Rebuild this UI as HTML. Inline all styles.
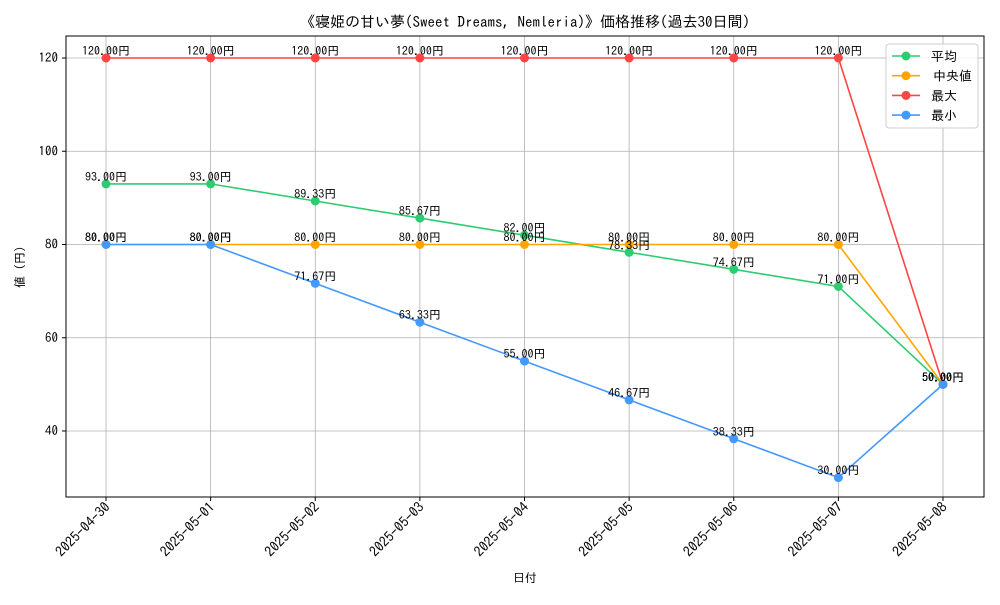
<!DOCTYPE html>
<html><head><meta charset="utf-8">
<style>
body{margin:0;background:#fff}
svg text{font-family:"IPAGothic","Liberation Sans","Noto Sans CJK JP",sans-serif;fill:#000}
</style></head>
<body>
<svg id="c" width="1000" height="600" viewBox="0 0 1000 600" xmlns="http://www.w3.org/2000/svg">
<rect x="0" y="0" width="1000" height="600" fill="#fff"/>
<text x="525" y="27" font-size="15" text-anchor="middle">《寝姫の甘い夢(Sweet Dreams, Nemleria)》価格推移(過去30日間)</text>
<g id="grid"></g>
<rect x="66" y="36" width="918" height="461" fill="none" stroke="#000" stroke-width="1"/>
<g id="axes"></g>
<g id="series"></g>
<text x="525" y="582" font-size="12" text-anchor="middle">日付</text>
<text x="24" y="267" font-size="12" text-anchor="middle" transform="rotate(-90 24 267)">値 (円)</text>
<g>
<rect x="886" y="44" width="92" height="84" rx="3" fill="#fff" fill-opacity="0.8" stroke="#ccc"/>
<g id="legend"></g>
</g>
</svg>
<script>
const categories=["2025-04-30","2025-05-01","2025-05-02","2025-05-03","2025-05-04","2025-05-05","2025-05-06","2025-05-07","2025-05-08"];
const avgValues=[93,93,89.33,85.67,82,78.33,74.67,71,50];
const medianValues=[80,80,80,80,80,80,80,80,50];
const maxValues=[120,120,120,120,120,120,120,120,50];
const minValues=[80,80,71.67,63.33,55,46.67,38.33,30,50];
const yTicks=[40,60,80,100,120];
const seriesNames=["平均","中央値","最大","最小"];

const NS="http://www.w3.org/2000/svg";
const X=i=>106+i*104.625;
const Y=v=>58+(120-v)*4.6625;
function mk(tag,attrs,parent){const e=document.createElementNS(NS,tag);for(const k in attrs)e.setAttribute(k,attrs[k]);parent.appendChild(e);return e;}
const grid=document.getElementById('grid'),axes=document.getElementById('axes'),ser=document.getElementById('series'),leg=document.getElementById('legend');
categories.forEach((c,i)=>{
  const l=mk('line',{x1:X(i),x2:X(i),y1:36,y2:497,stroke:'#b0b0b0','stroke-width':0.8},grid);
  
  
  mk('line',{x1:X(i),x2:X(i),y1:497,y2:501,stroke:'#000'},axes);
  const t=mk('text',{x:X(i)+5,y:508,'font-size':14,'text-anchor':'end',transform:`rotate(-45 ${X(i)+5} 508)`},axes);
  t.textContent=c;
  
  
});
yTicks.forEach(v=>{
  const l=mk('line',{x1:66,x2:984,y1:Y(v),y2:Y(v),stroke:'#b0b0b0','stroke-width':0.8},grid);
  
  
  mk('line',{x1:62,x2:66,y1:Y(v),y2:Y(v),stroke:'#000'},axes);
  const t=mk('text',{x:58,y:Y(v)+4,'font-size':13,'text-anchor':'end'},axes);
  t.textContent=v;
  
  
});
const series=[[avgValues,'#2ecc71','avg'],[medianValues,'#ffa500','median'],[maxValues,'#ff4444','max'],[minValues,'#4499ff','min']];
series.forEach(([vals,col,nm],si)=>{
  const g=mk('g',{},ser);
  
  
  const p=mk('polyline',{points:vals.map((v,i)=>X(i)+','+Y(v)).join(' '),fill:'none',stroke:col,'stroke-width':1.6},g);
  
  
  vals.forEach((v,i)=>{
    const c=mk('circle',{cx:X(i),cy:Y(v),r:4.5,fill:col},g);
    
    
  });
});
series.forEach(([vals,col,nm])=>{
  vals.forEach((v,i)=>{
    const t=mk('text',{x:X(i),y:Y(v)-3,'font-size':12,'text-anchor':'middle'},ser);
    t.textContent=v.toFixed(2)+'円';
    
    
  });
});
series.forEach(([vals,col,nm],si)=>{
  const y=56+si*19.7;
  const g=mk('g',{},leg);
  
  
  mk('line',{x1:892,x2:920,y1:y,y2:y,stroke:col,'stroke-width':1.6},g);
  mk('circle',{cx:906,cy:y,r:4.5,fill:col},g);
  const t=mk('text',{x:931+(si==1?2:0),y:y+5,'font-size':13},g);
  t.textContent=seriesNames[si];
});
</script>
</body></html>
